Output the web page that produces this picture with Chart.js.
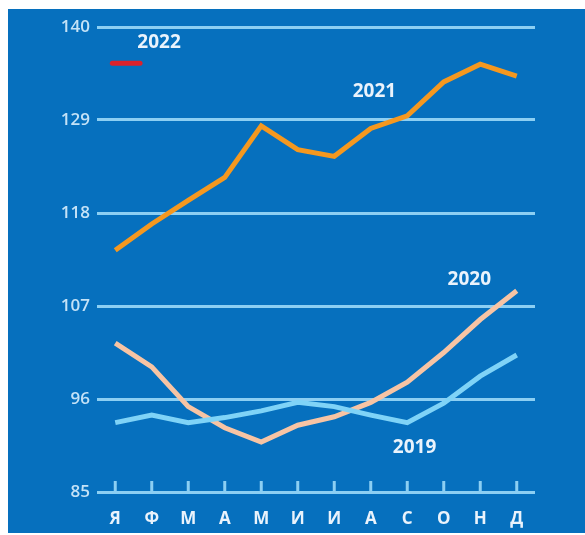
<!DOCTYPE html>
<html>
<head>
<meta charset="utf-8">
<script src="https://cdn.jsdelivr.net/npm/chart.js@4"></script>
<style>
    html, body { margin: 0; padding: 0; background: #ffffff; }
    #wrap {
        position: absolute;
        left: 8px; top: 9px;
        width: 577px; height: 524px;
        background: #0670be;
    }
</style>
</head>
<body>
<div id="wrap"><canvas id="grafico"></canvas></div>
<script>
// Datos
const meses = ['Я', 'Ф', 'М', 'А', 'М', 'И', 'И', 'А', 'С', 'О', 'Н', 'Д'];
const serie2021 = [113.6, 116.7, 119.5, 122.2, 128.3, 125.5, 124.7, 128.0, 129.5, 133.5, 135.6, 134.2];
const serie2020 = [102.6, 99.8, 95.1, 92.6, 90.9, 92.9, 93.9, 95.6, 98.0, 101.5, 105.4, 108.8];
const serie2019 = [93.2, 94.1, 93.2, 93.8, 94.6, 95.6, 95.1, 94.1, 93.2, 95.5, 98.7, 101.2];
const ticksY = [85, 96, 107, 118, 129, 140];

const colorGrid = '#8ccff3';
const colorTexto = '#eaf3fc';

// etiquetas de cada serie, ancladas en las escalas (índice de mes, valor)
const etiquetas = [
    { texto: '2021', x: 7.1, y: 132.4 },
    { texto: '2020', x: 9.7, y: 110.1 },
    { texto: '2019', x: 8.2, y: 90.3 },
    { texto: '2022', x: 1.2, y: 138.2 }
];
// marca roja de 2022
const marca2022 = { desde: -0.08, hasta: 0.68, y: 135.7 };

const pluginExtras = {
    id: 'extras',
    beforeDatasetsDraw(chart) {
        const { ctx, chartArea, scales } = chart;
        // marcas del eje X hacia arriba
        ctx.save();
        ctx.strokeStyle = colorGrid;
        ctx.lineWidth = 3;
        meses.forEach((_, i) => {
            const x = scales.x.getPixelForValue(i);
            ctx.beginPath();
            ctx.moveTo(x, chartArea.bottom);
            ctx.lineTo(x, chartArea.bottom - 11);
            ctx.stroke();
        });
        ctx.restore();
    },
    afterDatasetsDraw(chart) {
        const { ctx, scales } = chart;
        ctx.save();
        ctx.fillStyle = colorTexto;
        ctx.font = 'bold 19px "Open Sans", sans-serif';
        ctx.textAlign = 'center';
        ctx.textBaseline = 'middle';
        etiquetas.forEach(e => {
            ctx.fillText(e.texto, scales.x.getPixelForValue(e.x), scales.y.getPixelForValue(e.y));
        });
        ctx.strokeStyle = '#dc222c';
        ctx.lineWidth = 5;
        ctx.lineCap = 'round';
        const ym = scales.y.getPixelForValue(marca2022.y);
        ctx.beginPath();
        ctx.moveTo(scales.x.getPixelForValue(marca2022.desde), ym);
        ctx.lineTo(scales.x.getPixelForValue(marca2022.hasta), ym);
        ctx.stroke();
        ctx.restore();
    }
};

const serie = (label, data, color) => ({
    label: label,
    data: data,
    borderColor: color,
    borderWidth: 5,
    pointRadius: 0,
    tension: 0,
    fill: false
});

new Chart(document.getElementById('grafico'), {
    type: 'line',
    data: {
        labels: meses,
        datasets: [
            serie('2019', serie2019, '#7fd3f7'),
            serie('2020', serie2020, '#f7c4a4'),
            serie('2021', serie2021, '#f5981f')
        ]
    },
    options: {
        responsive: true,
        maintainAspectRatio: false,
        animation: false,
        layout: { padding: { top: 18, right: 50, left: 0, bottom: 0 } },
        plugins: {
            legend: { display: false },
            tooltip: { enabled: false }
        },
        scales: {
            x: {
                offset: true,
                grid: { display: false },
                border: { display: false },
                ticks: {
                    color: colorTexto,
                    padding: 9,
                    maxRotation: 0,
                    font: { family: '"Open Sans", sans-serif', size: 17, weight: 'bold' }
                },
                afterFit(scale) { scale.height = 41; }
            },
            y: {
                min: 85,
                max: 140,
                afterBuildTicks(scale) { scale.ticks = ticksY.map(v => ({ value: v })); },
                grid: { color: colorGrid, lineWidth: 3, drawTicks: false },
                border: { display: false },
                ticks: {
                    color: '#c4e2f7',
                    padding: 7,
                    font: { family: '"Open Sans", sans-serif', size: 17, weight: '600' }
                },
                afterFit(scale) { scale.width = 89; }
            }
        }
    },
    plugins: [pluginExtras]
});
</script>
</body>
</html>
